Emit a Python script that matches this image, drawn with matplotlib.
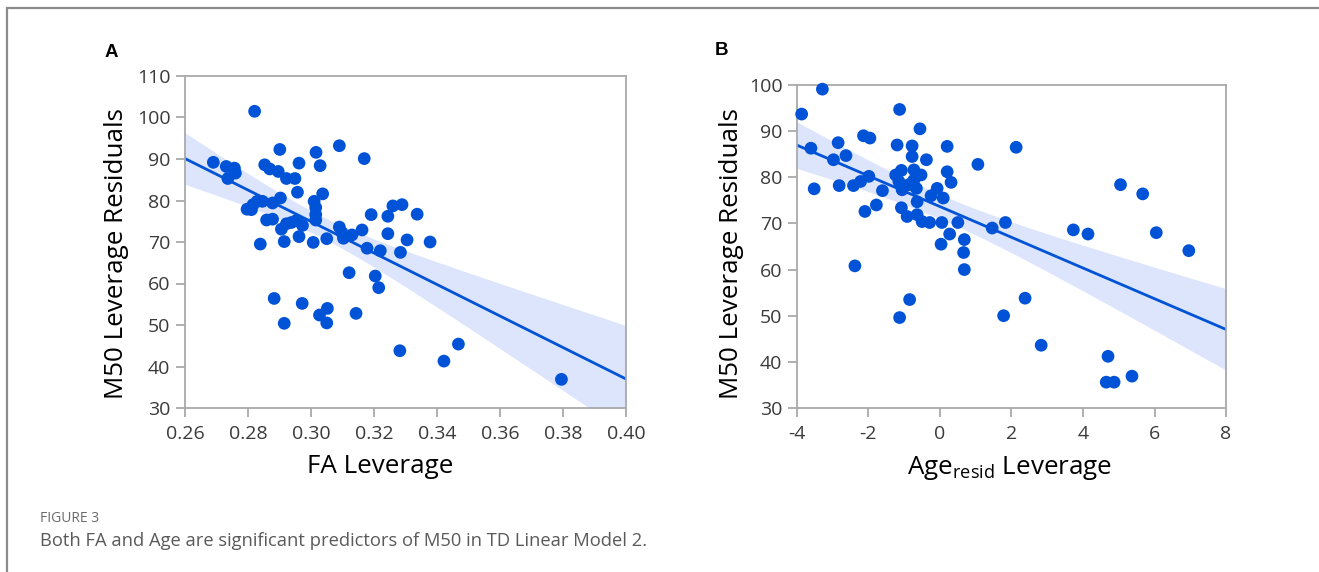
import numpy as np
import matplotlib
matplotlib.use("Agg")
import matplotlib.pyplot as plt
from matplotlib.patches import Rectangle

# ---------------- data ----------------
fa_x = [0.2821, 0.2690, 0.2731, 0.2757, 0.2736, 0.2760, 0.2901, 0.3016, 0.3090, 0.3169,
        0.2962, 0.3029, 0.2853, 0.2869, 0.2896, 0.2922, 0.2949, 0.2957, 0.3037, 0.3010,
        0.3015, 0.3015, 0.3015, 0.2829, 0.2816, 0.2797, 0.2811, 0.2846, 0.2878, 0.2903,
        0.2859, 0.2878, 0.2906, 0.2922, 0.2938, 0.2954, 0.2973, 0.2839, 0.2915, 0.2962,
        0.3007, 0.3050, 0.3090, 0.3098, 0.3103, 0.3130, 0.3162, 0.3191, 0.3244, 0.3260,
        0.3289, 0.3337, 0.3244, 0.3305, 0.3378, 0.3178, 0.3220, 0.3284, 0.3121, 0.3204,
        0.3215, 0.2883, 0.2972, 0.2915, 0.3027, 0.3052, 0.3050, 0.3143, 0.3282, 0.3422,
        0.3468, 0.3795]
fa_y = [101.5, 89.2, 88.2, 87.8, 85.3, 86.6, 92.3, 91.6, 93.2, 90.1,
        89.0, 88.4, 88.6, 87.6, 87.0, 85.3, 85.3, 82.0, 81.6, 79.8,
        78.3, 76.6, 75.3, 79.8, 79.0, 77.9, 77.8, 79.8, 79.4, 80.6,
        75.3, 75.5, 73.1, 74.4, 74.7, 75.2, 74.0, 69.5, 70.1, 71.3,
        69.9, 70.8, 73.6, 72.3, 70.9, 71.7, 72.9, 76.6, 76.2, 78.7,
        79.0, 76.7, 72.0, 70.5, 70.0, 68.5, 67.9, 67.5, 62.6, 61.8,
        59.0, 56.4, 55.2, 50.4, 52.4, 54.0, 50.5, 52.8, 43.8, 41.3,
        45.4, 36.9]

age_x = [-3.29, -3.87, -3.61, -3.52, -2.98, -2.85, -2.63, -2.82, -2.42, -2.22,
         -1.99, -2.14, -1.96, -2.10, -1.78, -1.61, -2.38, -1.13, -1.20, -0.78,
         -0.78, -0.56, -0.38, -1.24, -1.08, -1.15, -1.06, -0.87, -0.73, -0.73,
         -0.66, -0.53, -0.64, -1.08, -0.92, -0.64, -0.50, -0.29, -0.25, -0.08,
         0.09, 0.20, 0.20, 0.31, 0.05, 0.03, 0.27, 0.50, 0.68, 0.66,
         0.68, 1.06, 2.13, 1.46, 1.83, -0.85, -1.13, 1.78, 2.38, 2.83,
         3.73, 4.14, 5.05, 5.67, 6.05, 6.96, 4.70, 4.65, 4.87, 5.37,
         -0.80]
age_y = [99.1, 93.7, 86.3, 77.5, 83.8, 87.5, 84.7, 78.2, 78.2, 79.1,
         80.2, 89.0, 88.5, 72.6, 74.0, 77.1, 60.8, 94.7, 87.0, 86.8,
         84.5, 90.5, 83.8, 80.5, 81.5, 79.1, 77.3, 78.4, 81.6, 79.4,
         77.6, 80.5, 74.7, 73.4, 71.5, 71.9, 70.4, 70.2, 76.0, 77.6,
         75.5, 86.7, 81.2, 78.9, 70.2, 65.5, 67.7, 70.2, 66.5, 63.7,
         60.0, 82.8, 86.5, 69.0, 70.2, 53.5, 49.6, 50.0, 53.8, 43.6,
         68.6, 67.7, 78.4, 76.4, 68.0, 64.1, 41.2, 35.6, 35.6, 36.9,
         78.6]

fa_ticks = [0.26, 0.28, 0.30, 0.32, 0.34, 0.36, 0.38, 0.40]
fa_yticks = [30, 40, 50, 60, 70, 80, 90, 100, 110]
age_ticks = [-4, -2, 0, 2, 4, 6, 8]
age_yticks = [30, 40, 50, 60, 70, 80, 90, 100]

# ---------------- style ----------------
DOT = "#0052d6"
BAND = "#dce5fb"
SPINE = "#a9a9a9"
TICKC = "#3a3a3a"
FONT = ["Open Sans", "DejaVu Sans"]
plt.rcParams["font.family"] = FONT
LABEL_FS = 18.7


def fit_band(x, y, xs):
    x = np.asarray(x, float)
    y = np.asarray(y, float)
    n = len(x)
    b, a = np.polyfit(x, y, 1)
    resid = y - (a + b * x)
    s = np.sqrt(np.sum(resid ** 2) / (n - 2))
    sxx = np.sum((x - x.mean()) ** 2)
    se = s * np.sqrt(1.0 / n + (xs - x.mean()) ** 2 / sxx)
    t = 1.995
    yhat = a + b * xs
    return yhat, yhat - t * se, yhat + t * se


def style(ax, xlim, ylim, xt, yt, xtl):
    ax.set_xlim(*xlim)
    ax.set_ylim(*ylim)
    ax.set_xticks(xt)
    ax.set_xticklabels(xtl)
    ax.set_yticks(yt)
    for sp in ax.spines.values():
        sp.set_color(SPINE)
        sp.set_linewidth(1.3)
    ax.tick_params(axis="both", direction="out", length=6.5, width=1.3,
                   color=SPINE, labelcolor=TICKC, labelsize=14)
    ax.tick_params(axis="y", pad=4)
    ax.tick_params(axis="x", pad=6)


fig = plt.figure(figsize=(13.19, 5.72), dpi=100)

# outer frame
fig.patches.append(Rectangle((7 / 1319, -0.1), 1.2, 1 - 8 / 572 + 0.1,
                             transform=fig.transFigure, fill=False,
                             edgecolor="#8a8a8a", linewidth=1.6))

# Panel A
axA = fig.add_axes([185 / 1319, 1 - 408 / 572, 441 / 1319, 332 / 572])
xs = np.linspace(0.26, 0.40, 200)
yh, lo, hi = fit_band(fa_x, fa_y, xs)
axA.fill_between(xs, lo, hi, color=BAND, linewidth=0, zorder=1)
axA.plot(xs, yh, color=DOT, lw=2.0, zorder=2)
axA.scatter(fa_x, fa_y, s=84, color=DOT, edgecolors="none", zorder=3)
style(axA, (0.26, 0.40), (30, 110), fa_ticks, fa_yticks,
      ["%.2f" % v for v in fa_ticks])
axA.set_ylabel("M50 Leverage Residuals", fontsize=LABEL_FS, color="black")
axA.yaxis.set_label_coords(-0.127, 0.464)
axA.set_xlabel("FA Leverage", fontsize=LABEL_FS, color="black")
axA.xaxis.set_label_coords(0.442, -0.1386)

# Panel B
axB = fig.add_axes([797 / 1319, 1 - 408 / 572, 429 / 1319, 323 / 572])
xs2 = np.linspace(-4, 8, 200)
yh2, lo2, hi2 = fit_band(age_x, age_y, xs2)
axB.fill_between(xs2, lo2, hi2, color=BAND, linewidth=0, zorder=1)
axB.plot(xs2, yh2, color=DOT, lw=2.0, zorder=2)
axB.scatter(age_x, age_y, s=84, color=DOT, edgecolors="none", zorder=3, clip_on=False)
style(axB, (-4, 8), (30, 100), age_ticks, age_yticks, [str(v) for v in age_ticks])
axB.set_ylabel("M50 Leverage Residuals", fontsize=LABEL_FS, color="black")
axB.yaxis.set_label_coords(-0.1235, 0.478)
axB.set_xlabel(r"Age$_{\mathregular{resid}}$ Leverage", fontsize=LABEL_FS, color="black")
axB.xaxis.set_label_coords(0.4965, -0.1424)

# panel letters
fig.text(105 / 1319, 1 - 52.5 / 572, "A", fontsize=13.5, fontweight="bold",
         family=["Liberation Sans"], va="center", ha="left")
fig.text(715 / 1319, 1 - 50.5 / 572, "B", fontsize=13.5, fontweight="bold",
         family=["Liberation Sans"], va="center", ha="left")

# caption
fig.text(40 / 1319, 1 - 518 / 572, "FIGURE 3", fontsize=10, color="#6a6a6a",
         va="center", ha="left")
fig.text(40 / 1319, 1 - 541 / 572,
         "Both FA and Age are significant predictors of M50 in TD Linear Model 2.",
         fontsize=13.2, color="#5a5a5a", va="center", ha="left")

fig.savefig("out.png", dpi=100)
